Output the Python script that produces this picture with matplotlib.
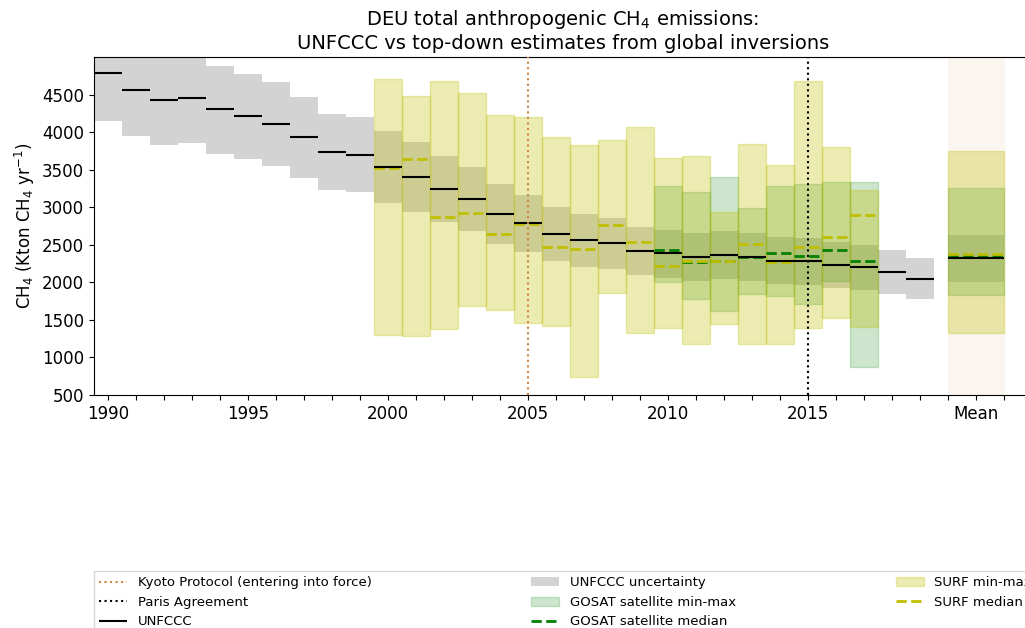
import matplotlib.pyplot as plt
import numpy as np

# UNFCCC reported totals and uncertainty (kton CH4 / yr)
years = np.arange(1990, 2020)
unfccc = [4789, 4567, 4424, 4460, 4304, 4215, 4113, 3936, 3740, 3700,
          3540, 3402, 3247, 3113, 2913, 2789, 2642, 2562, 2518, 2420,
          2389, 2340, 2367, 2340, 2291, 2282, 2229, 2202, 2144, 2051]
unc_low = [4149, 3944, 3829, 3851, 3716, 3642, 3553, 3397, 3229, 3202,
           3064, 2944, 2807, 2687, 2517, 2411, 2287, 2211, 2180, 2096,
           2056, 2024, 2047, 2024, 1980, 1967, 1927, 1900, 1842, 1776]
unc_high = [5429, 5190, 5019, 5069, 4877, 4780, 4664, 4464, 4242, 4202,
            4020, 3864, 3677, 3536, 3304, 3167, 3002, 2913, 2864, 2744,
            2700, 2660, 2687, 2660, 2607, 2593, 2540, 2500, 2433, 2331]

# SURF inversions 2000-2017
surf_years = np.arange(2000, 2018)
surf_min = [1296, 1290, 1384, 1691, 1638, 1456, 1424, 740, 1856, 1327,
            1398, 1180, 1447, 1176, 1180, 1398, 1522, 1411]
surf_max = [4713, 4478, 4680, 4527, 4233, 4197, 3940, 3829, 3900, 4064,
            3660, 3687, 2944, 3847, 3567, 4680, 3797, 3229]
surf_med = [3527, 3642, 2873, 2918, 2651, 2784, 2478, 2442, 2767, 2536,
            2220, 2291, 2287, 2509, 2273, 2478, 2602, 2896]

# GOSAT inversions 2010-2017
gosat_years = np.arange(2010, 2018)
gosat_min = [2002, 1776, 1624, 1851, 1824, 1709, 2024, 878]
gosat_max = [3287, 3202, 3410, 2989, 3278, 3304, 3336, 3336]
gosat_med = [2429, 2269, 2291, 2344, 2393, 2349, 2429, 2287]

# mean over the common period
mean_x = 2021
mean_unfccc, mean_unc = 2322, (2002, 2633)
mean_surf = (1331, 3744, 2384)
mean_gosat = (1833, 3260, 2358)

fig = plt.figure(figsize=(10.25, 6.28), dpi=100)
ax = fig.add_axes([0.0917, 0.371, 0.915, 0.538])

ax.axvspan(mean_x - 1, mean_x + 1, color='#fbf5f0', zorder=0)

ax.bar(years, np.array(unc_high) - np.array(unc_low), bottom=unc_low, width=1,
       color='lightgray', linewidth=0, label='UNFCCC uncertainty', zorder=1)
ax.bar([mean_x], [mean_unc[1] - mean_unc[0]], bottom=[mean_unc[0]], width=2,
       color='lightgray', linewidth=0, zorder=1)

ax.bar(gosat_years, np.array(gosat_max) - np.array(gosat_min), bottom=gosat_min,
       width=1, color='g', alpha=0.2, edgecolor='g', linewidth=1,
       label='GOSAT satellite min-max', zorder=2)
ax.bar([mean_x], [mean_gosat[1] - mean_gosat[0]], bottom=[mean_gosat[0]], width=2,
       color='g', alpha=0.2, edgecolor='g', linewidth=1, zorder=2)

ax.bar(surf_years, np.array(surf_max) - np.array(surf_min), bottom=surf_min,
       width=1, color='y', alpha=0.3, edgecolor='y', linewidth=1,
       label='SURF min-max', zorder=2)
ax.bar([mean_x], [mean_surf[1] - mean_surf[0]], bottom=[mean_surf[0]], width=2,
       color='y', alpha=0.3, edgecolor='y', linewidth=1, zorder=2)

ax.hlines(unfccc, years - 0.5, years + 0.5, color='k', linewidth=1.5,
          label='UNFCCC', zorder=4)
ax.hlines([mean_unfccc], mean_x - 1, mean_x + 1, color='k', linewidth=1.5, zorder=4)

ax.hlines(gosat_med, gosat_years - 0.5, gosat_years + 0.5, color='g',
          linewidth=2, linestyle='--', label='GOSAT satellite median', zorder=3)
ax.hlines([mean_gosat[2]], mean_x - 1, mean_x + 1, color='g', linewidth=2,
          linestyle='--', zorder=3)
ax.hlines(surf_med, surf_years - 0.5, surf_years + 0.5, color='y',
          linewidth=2, linestyle='--', label='SURF median', zorder=3)
ax.hlines([mean_surf[2]], mean_x - 1, mean_x + 1, color='y', linewidth=2,
          linestyle='--', zorder=3)

ax.axvline(2005, color='peru', linestyle=':', linewidth=1.5,
           label='Kyoto Protocol (entering into force)', zorder=5)
ax.axvline(2015, color='k', linestyle=':', linewidth=1.5,
           label='Paris Agreement', zorder=5)

ax.set_xlim(1989.5, 2023)
ax.set_ylim(500, 5000)
ticks = list(range(1990, 2023))
labels = [str(t) if (t % 5 == 0 and t < 2020) else '' for t in ticks]
labels[ticks.index(mean_x)] = 'Mean'
ax.set_xticks(ticks)
ax.set_xticklabels(labels)
ax.set_yticks(range(500, 5000, 500))
ax.tick_params(labelsize=12)
ax.set_ylabel('CH$_4$ (Kton CH$_4$ yr$^{-1}$)', fontsize=12)
ax.set_title('DEU total anthropogenic CH$_4$ emissions:\n'
             'UNFCCC vs top-down estimates from global inversions', fontsize=14)

h, l = ax.get_legend_handles_labels()
order = ['Kyoto Protocol (entering into force)', 'Paris Agreement', 'UNFCCC',
         'UNFCCC uncertainty', 'GOSAT satellite min-max', 'GOSAT satellite median',
         'SURF min-max', 'SURF median']
hd = dict(zip(l, h))
fig.legend([hd[k] for k in order], order, loc='upper left', ncol=3,
           mode='expand', fontsize=9.5, handlelength=2.1, borderaxespad=0,
           bbox_to_anchor=(0.0917, 0.0908, 0.92, 0.0), fancybox=False)

plt.savefig('out.png', dpi=100)
